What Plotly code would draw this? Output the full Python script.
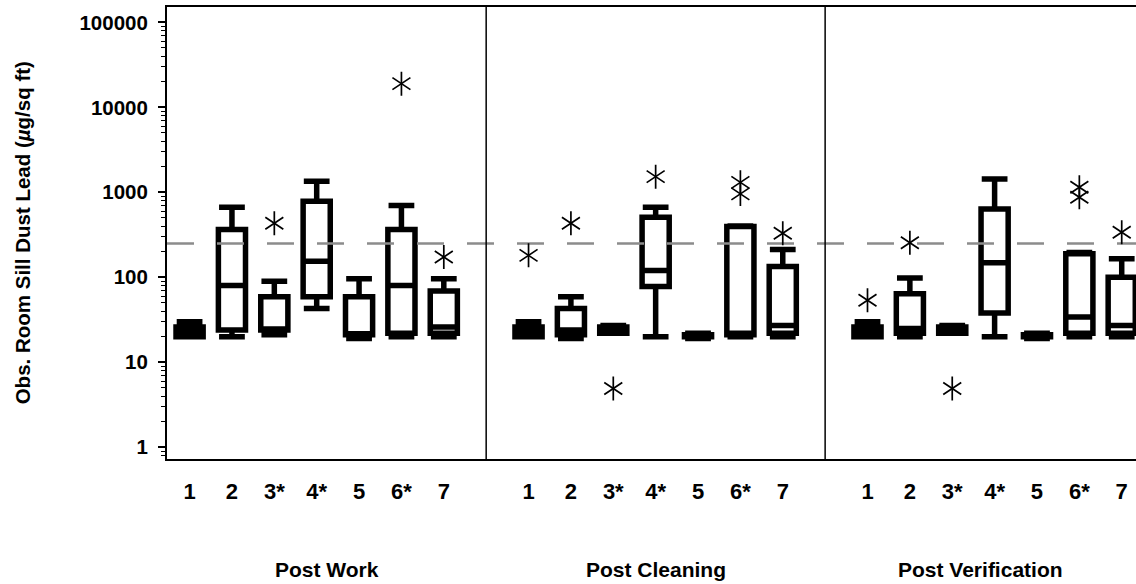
import plotly.graph_objects as go

groups = ["1", "2", "3*", "4*", "5", "6*", "7"]
phases = ["Post Work", "Post Cleaning", "Post Verification"]

# box statistics (ug/sq ft), one value per group
work_lower = [20, 20, 21, 43, 19, 20, 20]
work_q1 = [20, 24, 24, 59, 21, 22, 22]
work_median = [23, 80, 24, 154, 21, 80, 26]
work_q3 = [26, 365, 59, 784, 59, 365, 69]
work_upper = [30, 667, 90, 1346, 96, 698, 96]
work_outliers = {"3*": [433], "6*": [19000], "7": [173]}

cleaning_lower = [20, 19, 22, 20, 19, 20, 20]
cleaning_q1 = [20, 21, 22, 78, 20, 21, 22]
cleaning_median = [23, 24, 24, 120, 20, 22, 27]
cleaning_q3 = [26, 43, 26, 509, 21, 396, 134]
cleaning_upper = [30, 59, 27, 667, 22, 400, 212]
cleaning_outliers = {"1": [181], "2": [433], "3*": [4.9], "4*": [1528],
                     "6*": [1310, 958], "7": [330]}

verif_lower = [20, 20, 22, 20, 19, 20, 20]
verif_q1 = [20, 22, 22, 38, 20, 22, 22]
verif_median = [23, 25, 24, 148, 20, 34, 27]
verif_q3 = [26, 64, 26, 638, 21, 189, 100]
verif_upper = [30, 98, 27, 1436, 22, 195, 165]
verif_outliers = {"1": [53.6], "2": [255], "3*": [4.9], "6*": [1145, 874],
                  "7": [339]}

standard = 250  # reference level
ytick_vals = [1, 10, 100, 1000, 10000, 100000]

stats = [
    (work_lower, work_q1, work_median, work_q3, work_upper, work_outliers),
    (cleaning_lower, cleaning_q1, cleaning_median, cleaning_q3, cleaning_upper,
     cleaning_outliers),
    (verif_lower, verif_q1, verif_median, verif_q3, verif_upper, verif_outliers),
]

X_RANGE = [0.467, 23.337]
FONT = "Liberation Sans, Arial, sans-serif"


def xpos(p, g):
    return p * 8 + g + 1


fig = go.Figure()

# reference line under the boxes
fig.add_trace(go.Scatter(
    x=X_RANGE, y=[standard, standard], mode="lines",
    line={"color": "#8c8c8c", "width": 2.5, "dash": "27px,23px"},
    hoverinfo="skip", showlegend=False,
))

for p, (lo, q1, med, q3, up, outl) in enumerate(stats):
    fig.add_trace(go.Box(
        x=[xpos(p, g) for g in range(len(groups))],
        lowerfence=lo, q1=q1, median=med, q3=q3, upperfence=up,
        width=0.64, whiskerwidth=0.95,
        line={"color": "black", "width": 5.5},
        fillcolor="rgba(255,255,255,0)",
        boxpoints=False, showlegend=False, name=phases[p],
    ))
    ox, oy = [], []
    for key, vals in outl.items():
        for v in vals:
            ox.append(xpos(p, groups.index(key)))
            oy.append(v)
    # six-armed asterisk built from two opposite "y" symbols
    for sym in ("y-up-open", "y-down-open"):
        fig.add_trace(go.Scatter(
            x=ox, y=oy, mode="markers",
            marker={"symbol": sym, "size": 15, "color": "black",
                    "line": {"color": "black", "width": 1.7}},
            showlegend=False,
        ))

# panel dividers
for xd in (8, 16):
    fig.add_shape(type="line", xref="x", yref="paper", x0=xd, x1=xd, y0=0, y1=1,
                  line={"color": "black", "width": 1.5})

for p, name in enumerate(phases):
    left = X_RANGE[0] if p == 0 else p * 8
    right = X_RANGE[1] if p == 2 else (p + 1) * 8
    fig.add_annotation(
        text=f"<b>{name}</b>", x=(left + right) / 2, xref="x",
        y=-0.245, yref="paper", showarrow=False, yanchor="middle",
        font={"size": 21, "color": "black", "family": FONT},
    )

fig.add_annotation(
    text="<b>Obs. Room Sill Dust Lead (<i>µ</i>g/sq ft)</b>",
    x=-0.1493, xref="paper", y=0.5, yref="paper", textangle=-90,
    showarrow=False, xanchor="center", yanchor="middle",
    font={"size": 20.5, "color": "black", "family": FONT},
)

fig.update_xaxes(
    range=X_RANGE,
    tickvals=[xpos(p, g) for p in range(3) for g in range(len(groups))],
    ticktext=[f"<b>{g}</b>" for _ in phases for g in groups],
    ticks="", ticklabelstandoff=12,
    tickfont={"size": 22, "color": "black", "family": FONT},
    showline=True, linecolor="black", linewidth=2, mirror=True,
    showgrid=False, zeroline=False,
)
fig.update_yaxes(
    type="log", range=[-0.139, 5.181],
    tickvals=ytick_vals, ticktext=[f"<b>{v}</b>" for v in ytick_vals],
    ticks="outside", ticklen=7, tickwidth=1.5, tickcolor="black",
    ticklabelstandoff=6,
    minor={"ticks": "outside", "ticklen": 4, "tickcolor": "black",
           "tickwidth": 1, "dtick": "D1", "showgrid": False},
    tickfont={"size": 20.5, "color": "black", "family": FONT},
    showline=True, linecolor="black", linewidth=2,
    showgrid=False, zeroline=False,
)

fig.update_layout(
    width=1136, height=584,
    margin={"l": 167, "r": 0, "t": 7, "b": 125},
    plot_bgcolor="white", paper_bgcolor="white",
    showlegend=False,
)

fig.write_html(
    "out.html",
    config={"displayModeBar": False},
    post_script="document.body.style.margin='0';"
                "document.body.style.overflow='hidden';",
)
